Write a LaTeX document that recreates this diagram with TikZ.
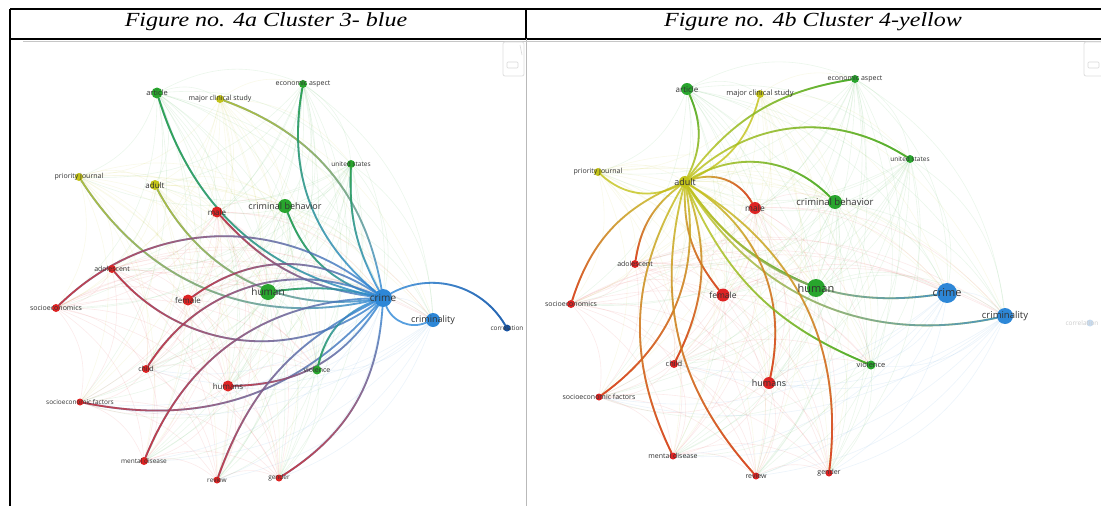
\documentclass[tikz,border=0pt]{standalone}
\usepackage{fontspec}
\setmainfont{Liberation Serif}
\newfontfamily\ttlfont[FakeStretch=1.2]{Liberation Serif}
\newfontfamily\lblfont{Open Sans}
\usetikzlibrary{fadings}
\pgfdeclarelayer{paper}
\pgfdeclarelayer{faint}
\pgfdeclarelayer{links}
\pgfsetlayers{paper,faint,links,main}
\definecolor{vred}{RGB}{222,35,35}
\definecolor{vgreen}{RGB}{40,165,45}
\definecolor{vblue}{RGB}{45,135,215}
\definecolor{vyellow}{RGB}{195,195,25}
\definecolor{vdblue}{RGB}{25,85,165}
\definecolor{vfade}{RGB}{200,220,240}
\definecolor{lblc}{RGB}{50,50,50}
\tikzfading[name=gright, left color=transparent!100, right color=transparent!0]
\tikzfading[name=gleft, left color=transparent!0, right color=transparent!100]
\tikzfading[name=gup, bottom color=transparent!100, top color=transparent!0]
\tikzfading[name=gdown, top color=transparent!100, bottom color=transparent!0]
\tikzset{
  kw/.style n args={2}{circle, inner sep=0pt, minimum size=#1, fill=#2, draw=none},
  lb/.style={font=\lblfont\fontsize{#1}{#1}\selectfont, text=lblc, inner sep=0pt},
  lk/.style n args={3}{draw=#1, line width=1.8pt, opacity=0.8, line cap=round,
      postaction={draw=#2, path fading=#3}},
  lkp/.style={draw=#1, line width=1.8pt, opacity=0.8, line cap=round},
  fe/.style={draw=#1, line width=0.6pt, opacity=0.09},
  rule/.style={line width=1.6pt, black},
  ttl/.style={font=\ttlfont\itshape\fontsize{20}{20}\selectfont, anchor=base, inner sep=0pt},
}
\begin{document}
\begin{tikzpicture}[x=1pt,y=1pt]
\useasboundingbox (0,0) rectangle (1101,-506);
\begin{pgfonlayer}{paper}
\fill[white] (0,0) rectangle (1101,-506);
\end{pgfonlayer}
% table
\draw[rule] (10,-9) -- (1101,-9);
\draw[rule] (10,-39) -- (1101,-39);
\draw[rule] (10,-9) -- (10,-506);
\draw[rule] (526,-9) -- (526,-39);
\draw[gray!55, line width=0.8pt] (526,-39) -- (526,-506);
\draw[gray!45, line width=1pt] (23,-41) -- (1101,-41);
\node[ttl] (t1) at (266,-27) {Figure no. 4a Cluster 3- blue};
\node[ttl] (t2) at (813,-27) {Figure no. 4b Cluster 4-yellow};
% toolbar icons
\draw[gray!25, line width=0.8pt, rounded corners=2pt] (503,-42) rectangle (524,-76);
\draw[gray!30, line width=0.6pt, rounded corners=1pt] (507,-62) rectangle (518,-68);
\draw[gray!30, line width=0.6pt] (520,-45) -- (522,-55);
\draw[gray!25, line width=0.8pt, rounded corners=2pt] (1084,-42) rectangle (1106,-76);
\draw[gray!30, line width=0.6pt, rounded corners=1pt] (1088,-62) rectangle (1099,-68);

% ---------- panel a nodes ----------
\node[kw={11pt}{vgreen}, label={[lb=7.5]center:article}] (a-art) at (157,-93) {};
\node[kw={8pt}{vyellow}, label={[lb=7]center:major clinical study}] (a-mcs) at (220,-99) {};
\node[kw={8pt}{vgreen}, label={[lb=7]center:economic aspect}] (a-eco) at (303,-84) {};
\node[kw={8pt}{vgreen}, label={[lb=6.5]center:united states}] (a-us) at (351,-164) {};
\node[kw={8pt}{vyellow}, label={[lb=7]center:priority journal}] (a-pj) at (79,-177) {};
\node[kw={10pt}{vyellow}, label={[lb=8]center:adult}] (a-adu) at (155,-185) {};
\node[kw={11pt}{vred}, label={[lb=8]center:male}] (a-mal) at (217,-212) {};
\node[kw={14pt}{vgreen}, label={[lb=9]center:criminal behavior}] (a-cb) at (285,-206) {};
\node[kw={8pt}{vred}, label={[lb=7]center:adolescent}] (a-ado) at (112,-269) {};
\node[kw={8pt}{vred}, label={[lb=7]center:socioeconomics}] (a-soc) at (56,-308) {};
\node[kw={11pt}{vred}, label={[lb=8]center:female}] (a-fem) at (188,-300) {};
\node[kw={16pt}{vgreen}, label={[lb=10]center:human}] (a-hum) at (268,-292) {};
\node[kw={18pt}{vblue}, label={[lb=10]center:crime}] (a-cri) at (383,-298) {};
\node[kw={14pt}{vblue}, label={[lb=9]center:criminality}] (a-cty) at (433,-320) {};
\node[kw={7pt}{vdblue}, label={[lb=6.5]center:correlation}] (a-cor) at (507,-328) {};
\node[kw={8pt}{vred}, label={[lb=7]center:child}] (a-chi) at (146,-369) {};
\node[kw={11pt}{vred}, label={[lb=8]center:humans}] (a-hus) at (228,-386) {};
\node[kw={9pt}{vgreen}, label={[lb=7]center:violence}] (a-vio) at (317,-370) {};
\node[kw={7pt}{vred}, label={[lb=6.5]center:socioeconomic factors}] (a-sef) at (80,-402) {};
\node[kw={8pt}{vred}, label={[lb=6.5]center:mental disease}] (a-mdi) at (144,-461) {};
\node[kw={7pt}{vred}, label={[lb=6.5]center:review}] (a-rev) at (217,-480) {};
\node[kw={7pt}{vred}, label={[lb=6.5]center:gender}] (a-gen) at (279,-478) {};

% ---------- panel b nodes ----------
\node[kw={12pt}{vgreen}, label={[lb=8]center:article}] (b-art) at (687,-89) {};
\node[kw={8pt}{vyellow}, label={[lb=7.5]center:major clinical study}] (b-mcs) at (760,-94) {};
\node[kw={8pt}{vgreen}, label={[lb=7]center:economic aspect}] (b-eco) at (855,-79) {};
\node[kw={8pt}{vgreen}, label={[lb=6.5]center:united states}] (b-us) at (910,-159) {};
\node[kw={8pt}{vyellow}, label={[lb=7]center:priority journal}] (b-pj) at (598,-172) {};
\node[kw={12pt}{vyellow}, label={[lb=9]center:adult}] (b-adu) at (685,-182) {};
\node[kw={12pt}{vred}, label={[lb=8.5]center:male}] (b-mal) at (755,-208) {};
\node[kw={14pt}{vgreen}, label={[lb=9.5]center:criminal behavior}] (b-cb) at (835,-202) {};
\node[kw={8pt}{vred}, label={[lb=7]center:adolescent}] (b-ado) at (635,-264) {};
\node[kw={8pt}{vred}, label={[lb=7]center:socioeconomics}] (b-soc) at (571,-304) {};
\node[kw={13pt}{vred}, label={[lb=8.5]center:female}] (b-fem) at (723,-295) {};
\node[kw={18pt}{vgreen}, label={[lb=11]center:human}] (b-hum) at (816,-288) {};
\node[kw={20pt}{vblue}, label={[lb=11]center:crime}] (b-cri) at (947,-293) {};
\node[kw={16pt}{vblue}, label={[lb=9.5]center:criminality}] (b-cty) at (1005,-316) {};
\node[kw={7pt}{vfade}, label={[lb=6.5, text=black!20, xshift=-8pt]center:correlation}] (b-cor) at (1090,-323) {};
\node[kw={8pt}{vred}, label={[lb=7.5]center:child}] (b-chi) at (674,-364) {};
\node[kw={12pt}{vred}, label={[lb=9]center:humans}] (b-hus) at (769,-383) {};
\node[kw={9pt}{vgreen}, label={[lb=7.5]center:violence}] (b-vio) at (871,-365) {};
\node[kw={7pt}{vred}, label={[lb=7]center:socioeconomic factors}] (b-sef) at (599,-397) {};
\node[kw={7pt}{vred}, label={[lb=7]center:mental disease}] (b-mdi) at (673,-456) {};
\node[kw={7pt}{vred}, label={[lb=7]center:review}] (b-rev) at (756,-476) {};
\node[kw={7pt}{vred}, label={[lb=7]center:gender}] (b-gen) at (829,-473) {};

% ---------- faint background links ----------
\def\pA{a-art/vgreen,a-mcs/vyellow,a-eco/vgreen,a-us/vgreen,a-pj/vyellow,a-adu/vyellow,a-mal/vred,a-cb/vgreen,a-ado/vred,a-soc/vred,a-fem/vred,a-hum/vgreen,a-cri/vblue,a-cty/vblue,a-chi/vred,a-hus/vred,a-vio/vgreen,a-sef/vred,a-mdi/vred,a-rev/vred,a-gen/vred}
\def\pB{b-art/vgreen,b-mcs/vyellow,b-eco/vgreen,b-us/vgreen,b-pj/vyellow,b-adu/vyellow,b-mal/vred,b-cb/vgreen,b-ado/vred,b-soc/vred,b-fem/vred,b-hum/vgreen,b-cri/vblue,b-cty/vblue,b-chi/vred,b-hus/vred,b-vio/vgreen,b-sef/vred,b-mdi/vred,b-rev/vred,b-gen/vred}
\begin{pgfonlayer}{faint}
\foreach \u/\cu [count=\i] in \pA {
  \foreach \v/\cv [count=\j] in \pA {
    \ifnum\j>\i \draw[fe=\cu] (\u) to[bend left=25] (\v);\fi
  }
}
\foreach \u/\cu [count=\i] in \pB {
  \foreach \v/\cv [count=\j] in \pB {
    \ifnum\j>\i \draw[fe=\cu] (\u) to[bend left=25] (\v);\fi
  }
}
\end{pgfonlayer}

% ---------- highlighted links ----------
\begin{pgfonlayer}{links}
% panel a: crime
\draw[lk={vblue}{vgreen}{gleft}] (a-cri) to[bend left=30] (a-art);
\draw[lk={vblue}{vyellow}{gup}] (a-cri) to[bend right=30] (a-mcs);
\draw[lk={vblue}{vgreen}{gup}] (a-cri) to[bend left=30] (a-eco);
\draw[lk={vblue}{vgreen}{gup}] (a-cri) to[bend left=15] (a-us);
\draw[lk={vblue}{vgreen}{gleft}] (a-cri) to[bend left=25] (a-cb);
\draw[lk={vblue}{vyellow}{gleft}] (a-cri) to[bend left=35] (a-pj);
\draw[lk={vblue}{vyellow}{gleft}] (a-cri) to[bend left=35] (a-adu);
\draw[lk={vblue}{vred}{gleft}] (a-cri) to[bend left=20] (a-mal);
\draw[lk={vblue}{vred}{gleft}] (a-cri) to[bend left=43] (a-ado);
\draw[lk={vblue}{vred}{gleft}] (a-cri) to[bend right=42] (a-soc);
\draw[lk={vblue}{vred}{gleft}] (a-cri) to[bend right=35] (a-fem);
\draw[lk={vblue}{vgreen}{gleft}] (a-cri) to[bend right=10] (a-hum);
\draw[lk={vblue}{vred}{gleft}] (a-cri) to[bend left=30] (a-sef);
\draw[lk={vblue}{vred}{gleft}] (a-cri) to[bend right=40] (a-chi);
\draw[lk={vblue}{vred}{gleft}] (a-cri) to[bend left=28] (a-hus);
\draw[lk={vblue}{vgreen}{gdown}] (a-cri) to[bend right=28] (a-vio);
\draw[lk={vblue}{vred}{gleft}] (a-cri) to[bend right=33] (a-mdi);
\draw[lk={vblue}{vred}{gdown}] (a-cri) to[bend right=22] (a-rev);
\draw[lk={vblue}{vred}{gdown}] (a-cri) to[bend left=27] (a-gen);
\draw[lkp=vblue] (a-cri) to[bend right=45] (a-cty);
\draw[lk={vblue}{vdblue}{gright}] (a-cri) to[bend left=44] (a-cor);
% panel b: adult
\draw[lk={vyellow}{vgreen}{gup}] (b-adu) to[bend right=25] (b-art);
\draw[lkp=vyellow] (b-adu) to[bend right=25] (b-mcs);
\draw[lk={vyellow}{vgreen}{gright}] (b-adu) to[bend left=22] (b-eco);
\draw[lk={vyellow}{vgreen}{gright}] (b-adu) to[bend left=38] (b-us);
\draw[lk={vyellow}{vgreen}{gright}] (b-adu) to[bend left=38] (b-cb);
\draw[lkp=vyellow] (b-adu) to[bend left=35] (b-pj);
\draw[lk={vyellow}{vred}{gright}] (b-adu) to[bend left=40] (b-mal);
\draw[lk={vyellow}{vred}{gdown}] (b-adu) to[bend right=22] (b-ado);
\draw[lk={vyellow}{vred}{gdown}] (b-adu) to[bend right=25] (b-soc);
\draw[lk={vyellow}{vred}{gdown}] (b-adu) to[bend right=20] (b-fem);
\draw[lk={vyellow}{vgreen}{gright}] (b-adu) to[bend right=15] (b-hum);
\draw[lk={vyellow}{vblue}{gright}] (b-adu) to[bend right=32] (b-cri);
\draw[lk={vyellow}{vblue}{gright}] (b-adu) to[bend right=35] (b-cty);
\draw[lk={vyellow}{vred}{gdown}] (b-adu) to[bend left=23] (b-chi);
\draw[lk={vyellow}{vred}{gdown}] (b-adu) to[bend left=35] (b-hus);
\draw[lk={vyellow}{vgreen}{gright}] (b-adu) to[bend right=22] (b-vio);
\draw[lk={vyellow}{vred}{gdown}] (b-adu) to[bend left=32] (b-sef);
\draw[lk={vyellow}{vred}{gdown}] (b-adu) to[bend right=28] (b-mdi);
\draw[lk={vyellow}{vred}{gdown}] (b-adu) to[bend right=28] (b-rev);
\draw[lk={vyellow}{vred}{gdown}] (b-adu) to[bend left=33] (b-gen);
\end{pgfonlayer}
\end{tikzpicture}
\end{document}
